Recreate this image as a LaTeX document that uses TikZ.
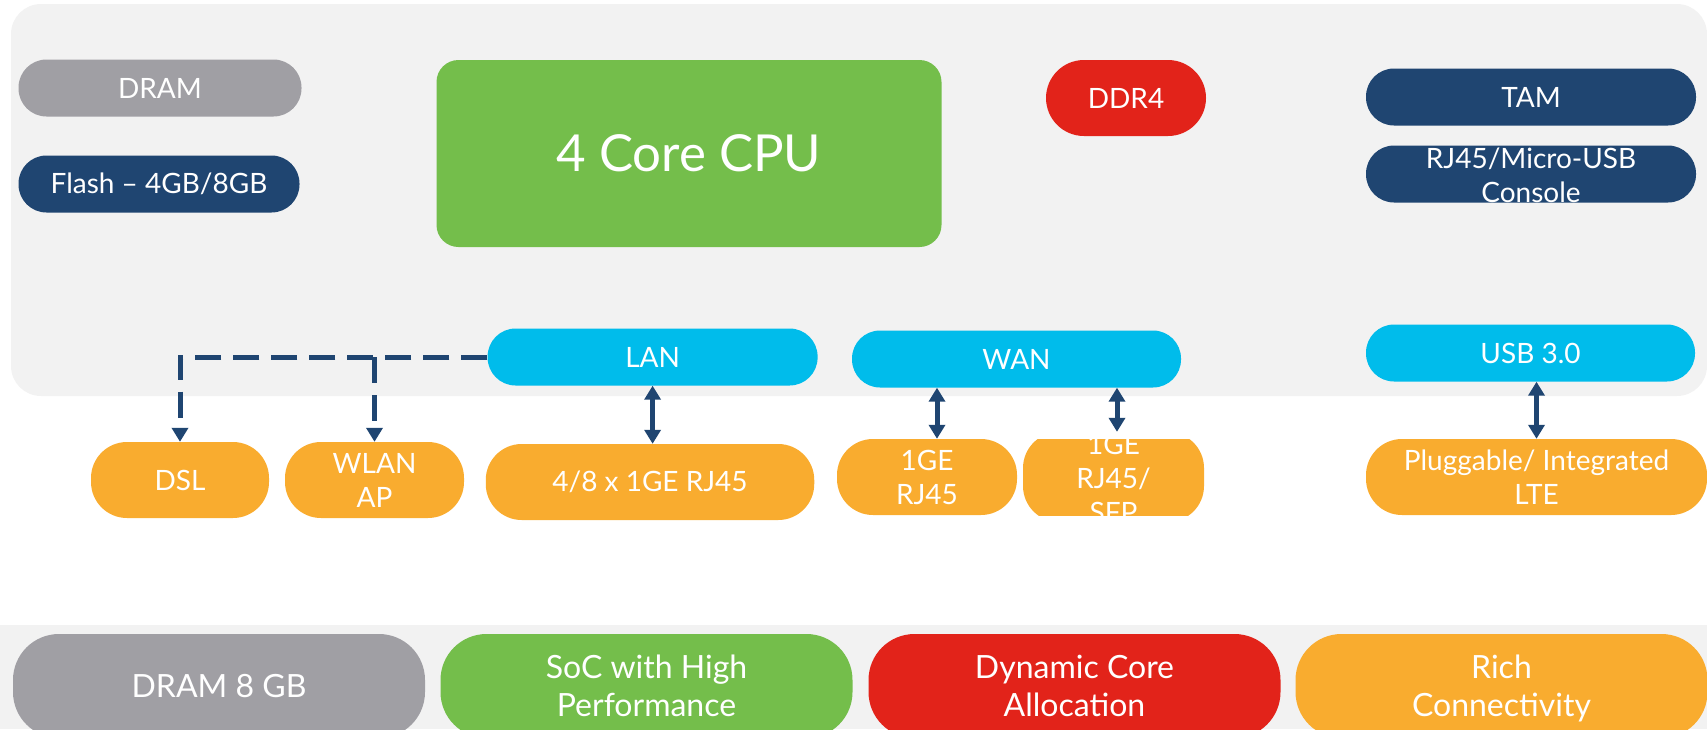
\documentclass[tikz,border=0pt]{standalone}
\usepackage{fontspec}
\setmainfont{Lato}
\usetikzlibrary{arrows.meta}

\definecolor{panelgray}{HTML}{F2F2F2}
\definecolor{memgray}{HTML}{A09FA4}
\definecolor{navy}{HTML}{1F4571}
\definecolor{cpugreen}{HTML}{74BE4B}
\definecolor{ddrred}{HTML}{E2231A}
\definecolor{portcyan}{HTML}{00BCEB}
\definecolor{ioorange}{HTML}{F9AC2F}

\begin{document}
\begin{tikzpicture}[x=1pt,y=-1pt,
    pill/.style={rectangle,rounded corners=#1,text=white,align=center,inner sep=0pt,
      font=\fontsize{28}{34}\selectfont},
    pill/.default=28pt,
    feature/.style={pill=46pt,minimum width=412,minimum height=104,text depth=0pt,
      font=\fontsize{32}{38}\selectfont},
    link/.style={draw=navy,line width=5pt,
      {Triangle[width=16pt,length=14pt]}-{Triangle[width=16pt,length=14pt]}},
    optlink/.style={draw=navy,line width=5pt,dash pattern=on 26pt off 12pt,
      -{Triangle[width=16pt,length=14pt]}}]

  \clip (0,0) rectangle (1707,729);
  \fill[panelgray,rounded corners=30pt] (11,4) rectangle (1707,396);
  \fill[panelgray] (0,625) rectangle (1707,729);

  \begin{scope}[every node/.style={pill,minimum height=57}]
    \node[fill=memgray,minimum width=283] (dram)    at (160,88)     {DRAM};
    \node[fill=navy,minimum width=281]    (flash)   at (159,184)    {Flash – 4GB/8GB};
    \node[pill=22pt,fill=cpugreen,minimum width=505,minimum height=187,
      font=\fontsize{51}{60}\selectfont] (cpu)      at (689,153.5)  {4 Core CPU};
    \node[pill=38pt,fill=ddrred,minimum width=160,minimum height=76]
                                          (ddr)     at (1126,98)    {DDR4};
    \node[fill=navy,minimum width=330]    (tam)     at (1531,97)    {TAM};
    \begin{scope}
      \clip (1366,145.5) rectangle (1696,202.5);
      \node[fill=navy,minimum width=330,text height=56pt,text depth=-4pt]
                                          (console) at (1531,174)   {RJ45/Micro-USB\\Console};
    \end{scope}
    \node[fill=portcyan,minimum width=330] (lan)    at (652.6,357)  {LAN};
    \node[fill=portcyan,minimum width=329] (wan)    at (1016.5,359) {WAN};
    \node[fill=portcyan,minimum width=329] (usb)    at (1530.5,353) {USB 3.0};
  \end{scope}

  \begin{scope}[every node/.style={pill=36pt,fill=ioorange,minimum height=76}]
    \node[minimum width=178]   (dsl)  at (180,480)    {DSL};
    \node[minimum width=179]   (wlan) at (374.5,480)  {WLAN\\AP};
    \node[minimum width=328.5] (eth)  at (650,482)    {4/8 x 1GE RJ45};
    \node[minimum width=180]   (gerj) at (927,477)    {1GE\\RJ45};
    \begin{scope}
      \clip (1023,439) rectangle (1204,515);
      \node[minimum width=181,text height=90pt,text depth=-15pt]
                               (gesfp) at (1113.5,477) {1GE\\RJ45/\\SFP};
    \end{scope}
    \node[minimum width=341]   (lte)  at (1536.5,477) {Pluggable/ Integrated\\LTE};
  \end{scope}

  \begin{scope}[every node/.style=feature]
    \node[fill=memgray]   (dram8)   at (219,686)    {DRAM 8 GB};
    \node[fill=cpugreen]  (soc)     at (646.5,686)  {SoC with High\\Performance};
    \node[fill=ddrred]    (dyncore) at (1074.5,686) {Dynamic Core\\Allocation};
    \node[fill=ioorange]  (richio)  at (1501.5,686) {Rich\\Connectivity};
  \end{scope}

  \coordinate (split) at (wlan.north |- lan.west);
  \draw[optlink] (lan.west) -| (dsl.north);
  \draw[optlink] (split) -- (wlan.north);

  \draw[link] (lan.south) -- (lan.south |- eth.north);
  \draw[link] ([xshift=10pt]gerj.north |- wan.south) -- ([xshift=10pt]gerj.north);
  \draw[link] ([xshift=3.5pt]gesfp.north |- wan.south) -- ([xshift=3.5pt]gesfp.north);
  \draw[link] (lte.north |- usb.south) -- (lte.north);

\end{tikzpicture}
\end{document}
